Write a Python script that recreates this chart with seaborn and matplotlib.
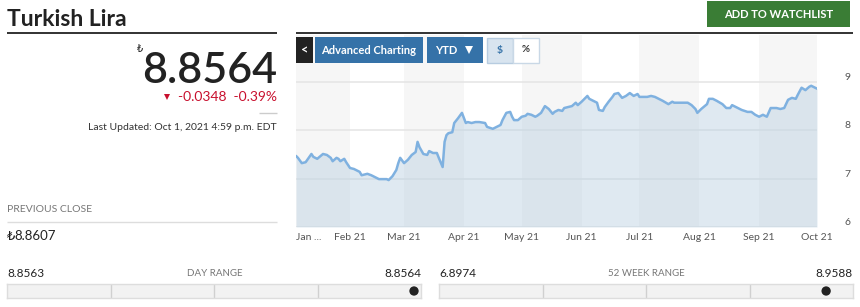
import numpy as np
import pandas as pd
import matplotlib
matplotlib.use("Agg")
import matplotlib.pyplot as plt
from matplotlib.patches import Rectangle
import seaborn as sns

# ---------------- data ----------------
title = "Turkish Lira"
currency = "\u20ba"
last_price = 8.8564
change = -0.0348
change_pct = -0.39
previous_close = 8.8607
updated = "Last Updated: Oct 1, 2021 4:59 p.m. EDT"
day_low, day_high = 8.8563, 8.8564
wk52_low, wk52_high = 6.8974, 8.9588

dates = [
    "2021-01-04", "2021-01-05", "2021-01-07", "2021-01-09", "2021-01-12", "2021-01-13", "2021-01-15",
    "2021-01-18", "2021-01-20", "2021-01-22", "2021-01-23", "2021-01-25", "2021-01-26", "2021-01-27",
    "2021-01-29", "2021-01-30",
    "2021-02-01", "2021-02-03", "2021-02-06", "2021-02-07", "2021-02-10", "2021-02-12", "2021-02-14",
    "2021-02-16", "2021-02-18", "2021-02-20", "2021-02-21", "2021-02-23", "2021-02-25", "2021-02-26",
    "2021-02-27",
    "2021-03-01", "2021-03-03", "2021-03-05", "2021-03-07", "2021-03-08", "2021-03-09", "2021-03-11",
    "2021-03-13", "2021-03-14", "2021-03-16", "2021-03-18", "2021-03-19", "2021-03-21", "2021-03-22",
    "2021-03-23", "2021-03-24", "2021-03-26", "2021-03-27", "2021-03-29", "2021-03-31",
    "2021-04-02", "2021-04-03", "2021-04-05", "2021-04-07", "2021-04-09", "2021-04-12", "2021-04-13",
    "2021-04-16", "2021-04-18", "2021-04-20", "2021-04-21", "2021-04-23", "2021-04-25", "2021-04-26",
    "2021-04-27", "2021-04-29",
    "2021-05-01", "2021-05-03", "2021-05-04", "2021-05-06", "2021-05-08", "2021-05-09", "2021-05-11",
    "2021-05-13", "2021-05-15", "2021-05-17", "2021-05-18", "2021-05-20", "2021-05-22", "2021-05-23",
    "2021-05-25", "2021-05-27", "2021-05-29", "2021-05-30",
    "2021-06-01", "2021-06-04", "2021-06-05", "2021-06-07", "2021-06-09", "2021-06-10", "2021-06-12",
    "2021-06-13", "2021-06-15", "2021-06-17", "2021-06-18", "2021-06-20", "2021-06-22", "2021-06-24",
    "2021-06-26", "2021-06-28", "2021-06-30",
    "2021-07-01", "2021-07-03", "2021-07-05", "2021-07-07", "2021-07-09", "2021-07-11", "2021-07-13",
    "2021-07-16", "2021-07-18", "2021-07-19", "2021-07-22", "2021-07-23", "2021-07-26", "2021-07-28",
    "2021-07-30", "2021-07-31",
    "2021-08-02", "2021-08-05", "2021-08-06", "2021-08-08", "2021-08-10", "2021-08-13", "2021-08-15",
    "2021-08-17", "2021-08-18", "2021-08-20", "2021-08-23", "2021-08-26", "2021-08-28", "2021-08-30",
    "2021-09-01", "2021-09-03", "2021-09-05", "2021-09-07", "2021-09-08", "2021-09-10", "2021-09-12",
    "2021-09-14", "2021-09-16", "2021-09-18", "2021-09-20", "2021-09-21", "2021-09-23", "2021-09-25",
    "2021-09-27", "2021-09-28", "2021-09-30",
    "2021-10-01",
]
rates = [
    7.47, 7.43, 7.32, 7.34, 7.51, 7.45, 7.41, 7.51, 7.49, 7.43, 7.36, 7.43, 7.41, 7.36, 7.41, 7.34,
    7.22, 7.20, 7.14, 7.07, 7.10, 7.07, 7.03, 6.99, 6.99, 6.99, 6.97, 7.05, 7.18, 7.32, 7.43,
    7.32, 7.39, 7.49, 7.55, 7.76, 7.65, 7.51, 7.49, 7.57, 7.53, 7.53, 7.43, 7.24, 7.76, 7.90, 7.94,
    7.96, 8.15, 8.25, 8.36,
    8.15, 8.17, 8.15, 8.17, 8.17, 8.15, 8.07, 8.03, 8.07, 8.11, 8.21, 8.36, 8.38, 8.28, 8.21, 8.21,
    8.28, 8.30, 8.34, 8.32, 8.28, 8.30, 8.36, 8.50, 8.44, 8.34, 8.38, 8.42, 8.40, 8.46, 8.48, 8.50,
    8.57, 8.52,
    8.59, 8.71, 8.65, 8.61, 8.57, 8.42, 8.40, 8.48, 8.59, 8.69, 8.75, 8.77, 8.67, 8.71, 8.77, 8.71,
    8.75,
    8.69, 8.69, 8.69, 8.71, 8.69, 8.65, 8.61, 8.54, 8.59, 8.57, 8.57, 8.57, 8.57, 8.52, 8.44, 8.36,
    8.44, 8.54, 8.65, 8.65, 8.61, 8.54, 8.46, 8.46, 8.52, 8.48, 8.42, 8.38, 8.38, 8.32,
    8.28, 8.32, 8.28, 8.46, 8.46, 8.46, 8.44, 8.46, 8.63, 8.67, 8.65, 8.73, 8.88, 8.83, 8.90, 8.92,
    8.88,
    8.86,
]
month_ticks = ["2021-01-04", "2021-02-01", "2021-03-01", "2021-04-01", "2021-05-01",
               "2021-06-01", "2021-07-01", "2021-08-01", "2021-09-01", "2021-10-01"]
month_labels = ["Jan ...", "Feb 21", "Mar 21", "Apr 21", "May 21",
                "Jun 21", "Jul 21", "Aug 21", "Sep 21", "Oct 21"]
y_ticks = [6, 7, 8, 9]

# ---------------- style ----------------
sns.set_theme(style="white")
plt.rcParams["font.family"] = ["Lato", "DejaVu Sans"]

W, H = 860, 307
fig = plt.figure(figsize=(W / 100, H / 100), dpi=100)
fig.patch.set_facecolor("white")

RED = "#c8102e"
BLUE = "#3572a8"
DARK = "#222222"

# ---------------- main chart ----------------
ax = fig.add_axes([296 / W, 1 - 227 / H, (817 - 296) / W, (227 - 35) / H], zorder=1)
df = pd.DataFrame({"date": pd.to_datetime(dates), "rate": rates})
tick_dates = pd.to_datetime(month_ticks)
for i in range(len(tick_dates) - 1):
    if i % 2 == 0:
        ax.axvspan(tick_dates[i], tick_dates[i + 1], color="#f6f6f6", lw=0, zorder=0)
ymin, ymax = 6, 9.97
ax.fill_between(df["date"], ymin, df["rate"], color="#b9d0e2", alpha=0.45, lw=0, zorder=1)
sns.lineplot(data=df, x="date", y="rate", ax=ax, color="#7fb1e0", lw=1.8, zorder=3)
ax.set_xlim(tick_dates[0], tick_dates[-1])
ax.set_ylim(ymin, ymax)
ax.set_xlabel("")
ax.set_ylabel("")
for s in ax.spines.values():
    s.set_visible(False)
ax.set_yticks(y_ticks)
ax.yaxis.tick_right()
ax.grid(axis="y", color="#e4e4e4", lw=1.1, zorder=0.5)
ax.grid(axis="x", visible=False)
ax.tick_params(axis="y", length=0, pad=20, labelsize=7.5, labelcolor="#555555")
plt.setp(ax.get_yticklabels(), va="bottom")
ax.set_xticks(tick_dates)
ax.set_xticklabels(month_labels)
ax.tick_params(axis="x", length=0, pad=4, labelsize=7.5, labelcolor="#555555")
xl = ax.get_xticklabels()
xl[0].set_ha("left")
ax.set_facecolor("white")

# ---------------- UI overlay ----------------
ui = fig.add_axes([0, 0, 1, 1], zorder=5)
ui.set_xlim(0, W)
ui.set_ylim(H, 0)
ui.axis("off")
ui.patch.set_alpha(0)

ui.text(7, 26, title, fontsize=16.5, fontweight="bold", color=DARK, va="baseline")
ui.hlines(33, 7, 277, color=DARK, lw=1.3)
ui.hlines(33, 296, 853, color=DARK, lw=1.3)

# add to watchlist
ui.add_patch(Rectangle((707, 1), 143, 26, color="#3a7d35", lw=0))
ui.text(778.5, 14.5, "ADD TO WATCHLIST", color="white", fontsize=8, fontweight="bold",
        ha="center", va="center")

# price block
ui.text(277, 83, f"{last_price:.4f}", fontsize=31, fontweight="semibold", color=DARK,
        ha="right", va="baseline")
ui.text(143, 52, currency, fontsize=7, color=DARK, ha="right", va="baseline",
        family=["DejaVu Sans"])
ui.plot([166.5], [97], marker="v", ms=5, color=RED, mew=0)
ui.text(277, 101, f"{change:.4f}  {change_pct:.2f}%", fontsize=10, color=RED,
        ha="right", va="baseline")
ui.hlines(113, 259, 277, color="#cccccc", lw=1)
ui.text(277, 130, updated, fontsize=7.5, color="#333333", ha="right", va="baseline")

# previous close
ui.text(7, 212.5, "PREVIOUS CLOSE", fontsize=7.5, color="#777777", va="baseline")
ui.hlines(222, 7, 277, color="#dddddd", lw=1)
ui.text(7, 240, currency, fontsize=9.5, color=DARK, va="baseline", family=["DejaVu Sans"])
ui.text(14, 240, f"{previous_close:.4f}", fontsize=9.5, color=DARK, va="baseline")

# chart buttons
ui.add_patch(Rectangle((296, 37), 17, 26, color="#222222", lw=0))
ui.text(304.5, 50, "<", color="white", fontsize=9, fontweight="bold", ha="center", va="center")
ui.add_patch(Rectangle((315, 37), 108, 26, color=BLUE, lw=0))
ui.text(369, 50, "Advanced Charting", color="white", fontsize=8, fontweight="bold",
        ha="center", va="center")
ui.add_patch(Rectangle((427, 37), 56, 26, color=BLUE, lw=0))
ui.text(446, 50, "YTD", color="white", fontsize=8, fontweight="bold", ha="center", va="center")
ui.plot([469], [49.5], marker="v", ms=6, color="white", mew=0)
ui.add_patch(Rectangle((486.5, 37.5), 26, 25, facecolor="#d8e4ef", edgecolor="#b7cce0", lw=1))
ui.add_patch(Rectangle((512.5, 37.5), 26, 25, facecolor="white", edgecolor="#c9d8e6", lw=1))
ui.text(499.5, 50, "$", color=BLUE, fontsize=7.5, fontweight="bold", ha="center", va="center")
ui.text(525.5, 50, "%", color="#333333", fontsize=7, fontweight="bold", ha="center", va="center")


# ---------------- range bars ----------------
def range_bar(x0, x1, lo, hi, cur, label):
    ui.text(x0, 277, f"{lo:.4f}", fontsize=8.5, color=DARK, va="baseline")
    ui.text(x1, 277, f"{hi:.4f}", fontsize=8.5, color=DARK, ha="right", va="baseline")
    ui.text((x0 + x1) / 2 + 0.5, 275.5, label, fontsize=7, color="#777777", ha="center",
            va="baseline")
    bax = fig.add_axes([x0 / W, 1 - 298 / H, (x1 - x0) / W, 14 / H], zorder=4)
    bax.set_facecolor("#f2f2f2")
    for s in bax.spines.values():
        s.set_visible(True)
        s.set_color("#dddddd")
        s.set_linewidth(1)
    for q in (0.25, 0.5, 0.75):
        bax.plot([q, q], [0, 1], color="#d0d0d0", lw=1, transform=bax.transAxes)
    pad = 7 / (x1 - x0 - 14) * (hi - lo)
    sns.scatterplot(x=[cur], y=[0], ax=bax, s=45, color="#222222", edgecolor="none", zorder=3)
    bax.set_xlim(lo - pad, hi + pad)
    bax.set_ylim(-1, 1)
    bax.set_xticks([])
    bax.set_yticks([])
    bax.set_xlabel("")
    bax.set_ylabel("")


range_bar(7, 421, day_low, day_high, last_price, "DAY RANGE")
range_bar(439, 853, wk52_low, wk52_high, last_price, "52 WEEK RANGE")

fig.savefig("out.png", dpi=100)
